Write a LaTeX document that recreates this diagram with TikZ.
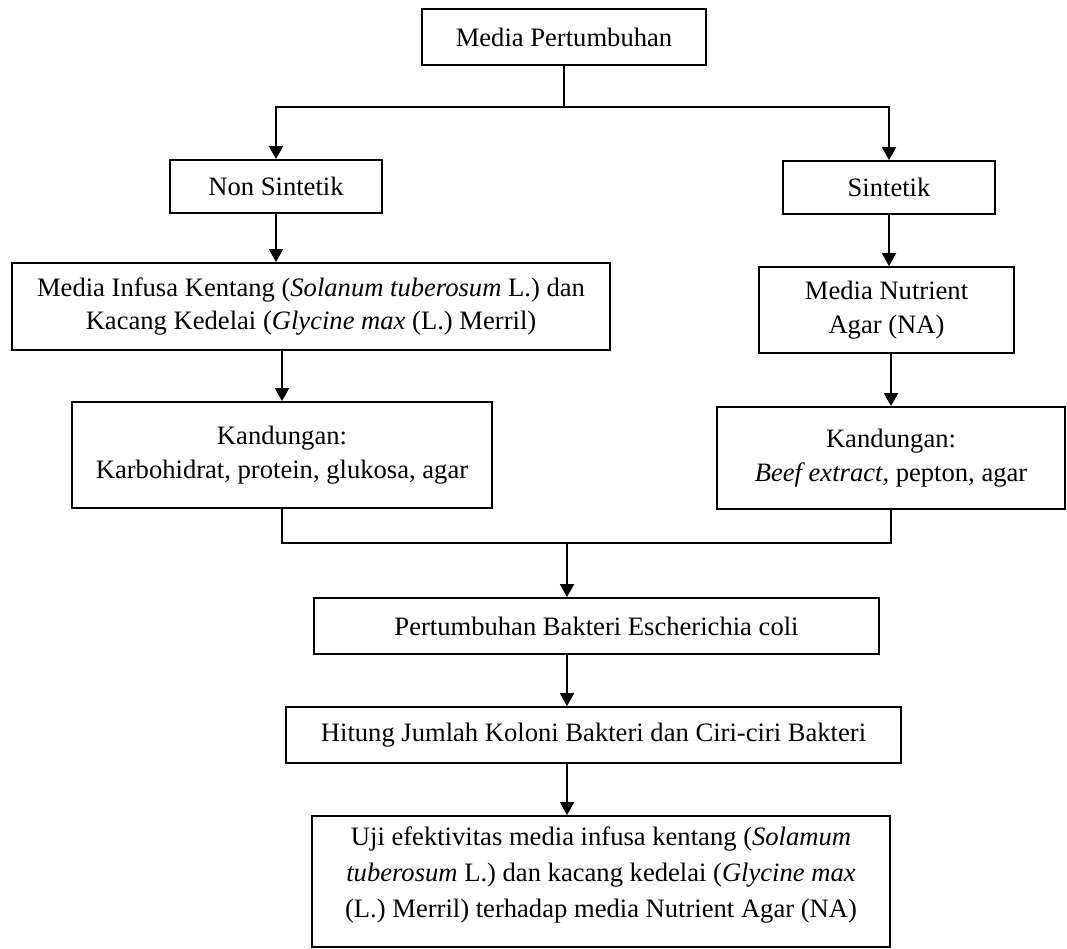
\documentclass[tikz,border=0pt]{standalone}
\usepackage{fontspec}
\setmainfont{Liberation Serif}
\usetikzlibrary{arrows.meta}
\tikzset{
  box/.style={draw=black, line width=1.8pt, rectangle, align=center, inner sep=0pt,
    font=\fontsize{26.6}{34}\selectfont},
  conn/.style={line width=1.8pt},
  arr/.style={line width=1.8pt, -{Triangle[width=14pt,length=13pt]}}
}
\begin{document}
\begin{tikzpicture}[x=1pt,y=-1pt]
\useasboundingbox[fill=white] (0,0) rectangle (1067,948);
\node[box, minimum width=284pt, minimum height=56pt] (top) at (564,37) {Media Pertumbuhan};
\node[box, minimum width=212pt, minimum height=53pt] (ns) at (276,186.5) {Non Sintetik};
\node[box, minimum width=212pt, minimum height=53pt] (sin) at (889,187.5) {Sintetik};
\node[box, minimum width=598pt, minimum height=87pt, font=\fontsize{26.6}{33}\selectfont] (b4) at (311,306.5)
  {Media Infusa Kentang (\textit{Solanum tuberosum} L.) dan\\Kacang Kedelai (\textit{Glycine max} (L.) Merril)};
\node[box, minimum width=255pt, minimum height=86pt] (b5) at (886.5,310) {Media Nutrient\\Agar (NA)};
\node[box, minimum width=420pt, minimum height=106pt] (b6) at (282,455)
  {Kandungan:\\Karbohidrat, protein, glukosa, agar};
\node[box, minimum width=348pt, minimum height=102pt] (b7) at (891,458)
  {Kandungan:\\\textit{Beef extract}, pepton, agar};
\node[box, minimum width=565pt, minimum height=56pt] (b8) at (596.5,626) {Pertumbuhan Bakteri Escherichia coli};
\node[box, minimum width=615pt, minimum height=56pt] (b9) at (593.5,735) {Hitung Jumlah Koloni Bakteri dan Ciri-ciri Bakteri};
\node[box, minimum width=578pt, minimum height=131pt, text depth=19pt, font=\fontsize{26.6}{36}\selectfont] (b10) at (601,881.5)
  {Uji efektivitas media infusa kentang (\textit{Solamum}\\\textit{tuberosum} L.) dan kacang kedelai (\textit{Glycine max}\\(L.) Merril) terhadap media Nutrient Agar (NA)};
\coordinate (j1) at (564,107);
\coordinate (m1) at (567,543);
\draw[conn] (top.south) -- (j1);
\draw[arr] (j1) -| (ns.north);
\draw[arr] (j1) -| (sin.north);
\draw[arr] (ns.south) -- (ns.south |- b4.north);
\draw[arr] (sin.south) -- (sin.south |- b5.north);
\draw[arr] (b6.north |- b4.south) -- (b6.north);
\draw[arr] (b7.north |- b5.south) -- (b7.north);
\draw[conn] (b6.south) |- (m1);
\draw[conn] (b7.south) |- (m1);
\draw[arr] (m1) -- (m1 |- b8.north);
\draw[arr] (b8.south -| m1) -- (b9.north -| m1);
\draw[arr] (b9.south -| m1) -- (b10.north -| m1);
\end{tikzpicture}
\end{document}
